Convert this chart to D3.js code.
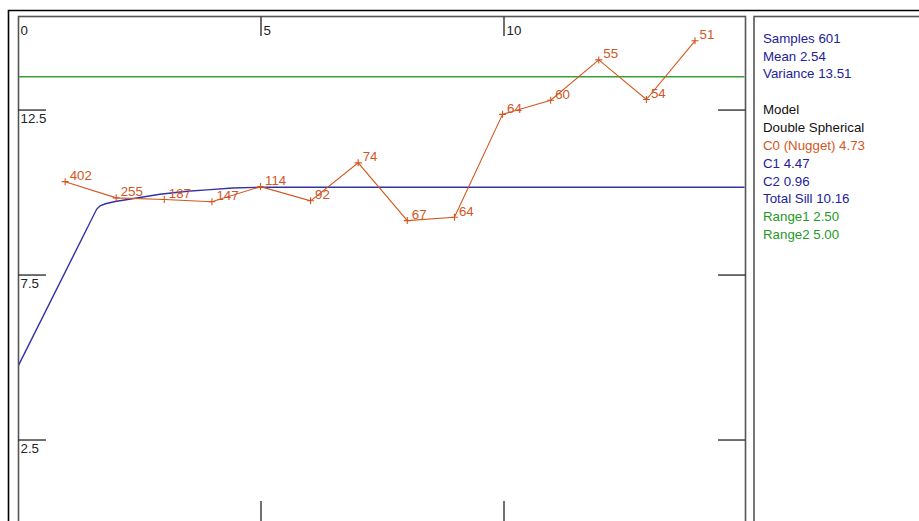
<!DOCTYPE html>
<html>
<head>
<meta charset="utf-8">
<script src="https://cdn.jsdelivr.net/npm/d3@7"></script>
<style>
  html, body { margin: 0; padding: 0; background: #fff; }
  svg { display: block; }
  text { font-family: "Liberation Sans", Arial, sans-serif; font-size: 13.3px; }
</style>
</head>
<body>
<script>
// Experimental semivariogram: mean lag distance, semivariance, pair count
const lagDistance = [0.97, 2.02, 3.01, 3.99, 4.99, 6.02, 7.0, 8.01, 8.98, 9.97, 10.96, 11.95, 12.93, 13.93];
const semivariance = [10.33, 9.84, 9.79, 9.72, 10.18, 9.75, 10.90, 9.15, 9.25, 12.37, 12.80, 14.02, 12.82, 14.60];
const pairCounts = [402, 255, 187, 147, 114, 92, 74, 67, 64, 64, 60, 55, 54, 51];

// Fitted double spherical model curve
const modelLag = [0, 1.62, 1.69, 1.8, 2.0, 2.51, 2.92, 3.48, 3.89, 4.42, 5.0, 15.0];
const modelGamma = [4.73, 9.5, 9.6, 9.66, 9.73, 9.85, 9.95, 10.04, 10.08, 10.14, 10.16, 10.16];

const sampleVariance = 13.51;

const xTicks = [0, 5, 10];
const yTicks = [2.5, 7.5, 12.5];

// Statistics panel lines: [text, colour key]
const panelLines = [
  ["Samples 601", "navy"],
  ["Mean 2.54", "navy"],
  ["Variance 13.51", "navy"],
  ["", "black"],
  ["Model", "black"],
  ["Double Spherical", "black"],
  ["C0 (Nugget) 4.73", "orange"],
  ["C1 4.47", "navy"],
  ["C2 0.96", "navy"],
  ["Total Sill 10.16", "navy"],
  ["Range1 2.50", "green"],
  ["Range2 5.00", "green"]
];

const colours = {
  navy: "#22229a",
  black: "#111111",
  orange: "#d2561e",
  green: "#1f9a1f"
};

const W = 919, H = 521;
const plot = { left: 18, top: 16.5, right: 745.5, bottom: 522.5 };

const svg = d3.select("body").append("svg").attr("width", W).attr("height", H);

const x = d3.scaleLinear().domain([0, 15]).range([plot.left, 747]);
const y = d3.scaleLinear().domain([0, 15.33]).range([plot.bottom, plot.top + 0.2]);

// Outer window frame
svg.append("path")
  .attr("d", `M8.5,${H + 2} V10.5 H${W + 2}`)
  .attr("fill", "none").attr("stroke", "#000").attr("stroke-width", 1.6);

// Plot frame
svg.append("rect")
  .attr("x", plot.left + 0.5).attr("y", plot.top)
  .attr("width", plot.right - plot.left - 0.5).attr("height", plot.bottom - plot.top + 10)
  .attr("fill", "none").attr("stroke", "#555").attr("stroke-width", 1.6);

// Statistics panel frame
svg.append("rect")
  .attr("x", 754).attr("y", plot.top)
  .attr("width", 200).attr("height", H)
  .attr("fill", "none").attr("stroke", "#555").attr("stroke-width", 1.6);

svg.append("clipPath").attr("id", "plotClip")
  .append("rect")
  .attr("x", plot.left + 1).attr("y", plot.top + 1)
  .attr("width", plot.right - plot.left - 2).attr("height", plot.bottom - plot.top);

const axisColour = "#333";

// X ticks, top and bottom
const xt = svg.append("g");
xTicks.filter(d => d > 0).forEach(d => {
  xt.append("line").attr("x1", x(d)).attr("x2", x(d)).attr("y1", plot.top).attr("y2", 36)
    .attr("stroke", axisColour).attr("stroke-width", 1.4);
  xt.append("line").attr("x1", x(d)).attr("x2", x(d)).attr("y1", 501).attr("y2", H)
    .attr("stroke", axisColour).attr("stroke-width", 1.4);
});
xt.selectAll("text").data(xTicks).join("text")
  .attr("x", d => x(d) + 2.5).attr("y", 35)
  .attr("fill", "#222")
  .text(d => d);

// Y ticks, left and right
const yt = svg.append("g");
yTicks.forEach(d => {
  yt.append("line").attr("x1", plot.left).attr("x2", 46).attr("y1", y(d)).attr("y2", y(d))
    .attr("stroke", axisColour).attr("stroke-width", 1.4);
  yt.append("line").attr("x1", 718).attr("x2", plot.right).attr("y1", y(d)).attr("y2", y(d))
    .attr("stroke", axisColour).attr("stroke-width", 1.4);
});
yt.selectAll("text").data(yTicks).join("text")
  .attr("x", plot.left + 2.5).attr("y", d => y(d) + 13)
  .attr("fill", "#222")
  .text(d => d);

const g = svg.append("g").attr("clip-path", "url(#plotClip)");

// Sample variance reference line
g.append("line")
  .attr("x1", plot.left).attr("x2", plot.right)
  .attr("y1", y(sampleVariance)).attr("y2", y(sampleVariance))
  .attr("stroke", "#3a9e3a").attr("stroke-width", 1.4);

// Model curve
const modelPts = modelLag.map((h, i) => [h, modelGamma[i]]);
g.append("path")
  .attr("d", d3.line().x(d => x(d[0])).y(d => y(d[1]))(modelPts))
  .attr("fill", "none").attr("stroke", "#3232a8").attr("stroke-width", 1.4);

// Experimental semivariogram
const expPts = lagDistance.map((h, i) => ({ h, v: semivariance[i], n: pairCounts[i] }));
const orange = colours.orange;
g.append("path")
  .attr("d", d3.line().x(d => x(d.h)).y(d => y(d.v))(expPts))
  .attr("fill", "none").attr("stroke", orange).attr("stroke-width", 1.1);

const marks = g.selectAll("g.pt").data(expPts).join("g").attr("class", "pt")
  .attr("transform", d => `translate(${x(d.h)},${y(d.v)})`);
marks.append("path").attr("d", "M-3.5,0H3.5M0,-3.5V3.5")
  .attr("stroke", orange).attr("stroke-width", 1.1);
marks.append("text").attr("x", 4.5).attr("y", -1.5)
  .attr("fill", orange).text(d => d.n);

// Statistics panel text
svg.append("g").selectAll("text").data(panelLines).join("text")
  .attr("x", 763).attr("y", (d, i) => 42.7 + i * 17.85)
  .attr("fill", d => colours[d[1]])
  .text(d => d[0]);
</script>
</body>
</html>
